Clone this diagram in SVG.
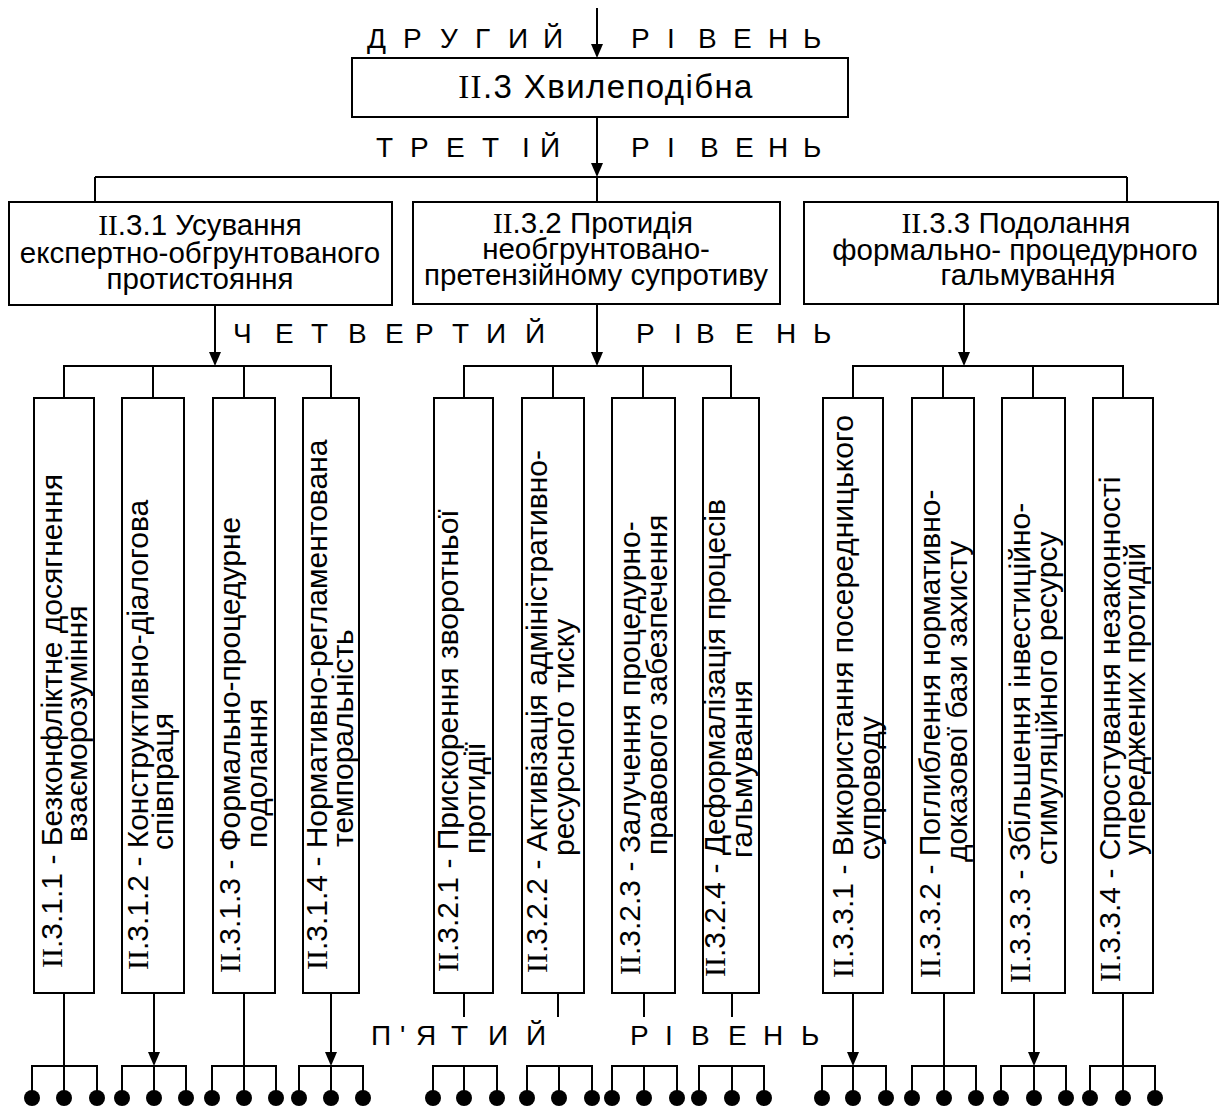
<svg xmlns="http://www.w3.org/2000/svg" width="1224" height="1109" viewBox="0 0 1224 1109">
<style>
.box{fill:#fff;stroke:#000;stroke-width:2}
.ln{stroke:#000;stroke-width:2;fill:none}
.ar{stroke:#000;stroke-width:2;fill:none;marker-end:url(#ah)}
.t{font-family:"Liberation Sans",Arial,sans-serif;font-size:30px;fill:#000}
.bt{font-family:"Liberation Sans",Arial,sans-serif;font-size:29.5px;fill:#000;text-anchor:middle}
.r{font-family:"Liberation Serif","Times New Roman",serif}
.lvl{font-family:"Liberation Sans",Arial,sans-serif;font-size:28px;fill:#000}
.dot{fill:#000}
</style>
<defs>
<marker id="ah" markerUnits="userSpaceOnUse" markerWidth="14" markerHeight="12" refX="10" refY="6" orient="auto">
<path d="M0,0 L14,6 L0,12 z" fill="#000"/>
</marker>
</defs>
<rect width="1224" height="1109" fill="#fff"/>

<g id="levels">
<text class="lvl" x="367 403 440 475 508 543" y="48">ДРУГИЙ</text>
<text class="lvl" x="631 667 698 733 768 803" y="48">РІВЕНЬ</text>
<text class="lvl" x="376 410 446 482 522 540" y="157">ТРЕТІЙ</text>
<text class="lvl" x="631 667 700 735 768 803" y="157">РІВЕНЬ</text>
<text class="lvl" x="233 275 311 348 385 415 452 486 525" y="343">ЧЕТВЕРТИЙ</text>
<text class="lvl" x="636 674 696 735 776 813" y="343">РІВЕНЬ</text>
<text class="lvl" x="371 400 416 451 488 526" y="1045">П'ЯТИЙ</text>
<text class="lvl" x="630 665 691 728 763 801" y="1045">РІВЕНЬ</text>
</g>

<g id="connectors">
<line class="ar" x1="597" y1="8" x2="597" y2="54"/>
<line class="ar" x1="597" y1="117" x2="597" y2="173"/>
<line class="ln" x1="597" y1="177" x2="597" y2="202"/>
<line class="ln" x1="95" y1="177" x2="1127" y2="177"/>
<line class="ln" x1="95" y1="177" x2="95" y2="202"/>
<line class="ln" x1="1127" y1="177" x2="1127" y2="202"/>

<line class="ar" x1="215" y1="305" x2="215" y2="362"/>
<line class="ar" x1="597" y1="304" x2="597" y2="362"/>
<line class="ar" x1="964" y1="304" x2="964" y2="362"/>
<path class="ln" d="M64,398 V366 H331 V398 M153,366 V398 M244,366 V398"/>
<path class="ln" d="M464,398 V366 H731 V398 M553,366 V398 M643,366 V398"/>
<path class="ln" d="M853,398 V366 H1123 V398 M943,366 V398 M1033,366 V398"/>

<line class="ln" x1="64" y1="993" x2="64" y2="1098"/>
<line class="ar" x1="154" y1="993" x2="154" y2="1062"/>
<line class="ln" x1="244" y1="993" x2="244" y2="1098"/>
<line class="ar" x1="331" y1="993" x2="331" y2="1062"/>
<line class="ln" x1="464" y1="993" x2="464" y2="1017"/>
<line class="ln" x1="558" y1="993" x2="558" y2="1017"/>
<line class="ln" x1="644" y1="993" x2="644" y2="1017"/>
<line class="ln" x1="732" y1="993" x2="732" y2="1017"/>
<line class="ar" x1="853" y1="993" x2="853" y2="1062"/>
<line class="ln" x1="944" y1="993" x2="944" y2="1098"/>
<line class="ar" x1="1034" y1="993" x2="1034" y2="1062"/>
<line class="ln" x1="1123" y1="993" x2="1123" y2="1098"/>

<path class="ln" d="M32,1098 V1066 H97 V1098 M64,1066 V1098"/>
<path class="ln" d="M122,1098 V1066 H186 V1098 M154,1066 V1098"/>
<path class="ln" d="M212,1098 V1066 H276 V1098 M244,1066 V1098"/>
<path class="ln" d="M299,1098 V1066 H363 V1098 M331,1066 V1098"/>
<path class="ln" d="M433,1098 V1066 H497 V1098 M464,1066 V1098"/>
<path class="ln" d="M527,1098 V1066 H592 V1098 M559,1066 V1098"/>
<path class="ln" d="M612,1098 V1066 H677 V1098 M644,1066 V1098"/>
<path class="ln" d="M699,1098 V1066 H764 V1098 M732,1066 V1098"/>
<path class="ln" d="M822,1098 V1066 H886 V1098 M853,1066 V1098"/>
<path class="ln" d="M912,1098 V1066 H976 V1098 M944,1066 V1098"/>
<path class="ln" d="M1001,1098 V1066 H1066 V1098 M1034,1066 V1098"/>
<path class="ln" d="M1090,1098 V1066 H1155 V1098 M1123,1066 V1098"/>
</g>

<g id="dots">
<circle class="dot" cx="32" cy="1098" r="8"/><circle class="dot" cx="64" cy="1098" r="8"/><circle class="dot" cx="97" cy="1098" r="8"/>
<circle class="dot" cx="122" cy="1098" r="8"/><circle class="dot" cx="154" cy="1098" r="8"/><circle class="dot" cx="186" cy="1098" r="8"/>
<circle class="dot" cx="212" cy="1098" r="8"/><circle class="dot" cx="244" cy="1098" r="8"/><circle class="dot" cx="276" cy="1098" r="8"/>
<circle class="dot" cx="299" cy="1098" r="8"/><circle class="dot" cx="331" cy="1098" r="8"/><circle class="dot" cx="363" cy="1098" r="8"/>
<circle class="dot" cx="433" cy="1098" r="8"/><circle class="dot" cx="464" cy="1098" r="8"/><circle class="dot" cx="497" cy="1098" r="8"/>
<circle class="dot" cx="527" cy="1098" r="8"/><circle class="dot" cx="559" cy="1098" r="8"/><circle class="dot" cx="592" cy="1098" r="8"/>
<circle class="dot" cx="612" cy="1098" r="8"/><circle class="dot" cx="644" cy="1098" r="8"/><circle class="dot" cx="677" cy="1098" r="8"/>
<circle class="dot" cx="699" cy="1098" r="8"/><circle class="dot" cx="732" cy="1098" r="8"/><circle class="dot" cx="764" cy="1098" r="8"/>
<circle class="dot" cx="822" cy="1098" r="8"/><circle class="dot" cx="853" cy="1098" r="8"/><circle class="dot" cx="886" cy="1098" r="8"/>
<circle class="dot" cx="912" cy="1098" r="8"/><circle class="dot" cx="944" cy="1098" r="8"/><circle class="dot" cx="976" cy="1098" r="8"/>
<circle class="dot" cx="1001" cy="1098" r="8"/><circle class="dot" cx="1034" cy="1098" r="8"/><circle class="dot" cx="1066" cy="1098" r="8"/>
<circle class="dot" cx="1090" cy="1098" r="8"/><circle class="dot" cx="1123" cy="1098" r="8"/><circle class="dot" cx="1155" cy="1098" r="8"/>
</g>

<g id="n-2-3">
<rect class="box" x="352" y="58" width="496" height="59"/>
<text class="bt" x="606" y="98" style="font-size:33px;letter-spacing:1.4px"><tspan class="r">II</tspan>.3 Хвилеподібна</text>
</g>

<g id="n-2-3-1">
<rect class="box" x="9" y="202" width="383" height="103"/>
<text class="bt" x="200" y="235"><tspan class="r">II</tspan>.3.1 Усування</text>
<text class="bt" x="200" y="263">експертно-обгрунтованого</text>
<text class="bt" x="200" y="289">протистояння</text>
</g>

<g id="n-2-3-2">
<rect class="box" x="413" y="202" width="367" height="102"/>
<text class="bt" x="593" y="233"><tspan class="r">II</tspan>.3.2 Протидія</text>
<text class="bt" x="596" y="259">необгрунтовано-</text>
<text class="bt" x="596" y="285">претензійному супротиву</text>
</g>

<g id="n-2-3-3">
<rect class="box" x="804" y="202" width="414" height="102"/>
<text class="bt" x="1016" y="233"><tspan class="r">II</tspan>.3.3 Подолання</text>
<text class="bt" x="1015" y="260">формально- процедурного</text>
<text class="bt" x="1028" y="285">гальмування</text>
</g>

<g id="n-2-3-1-1">
<rect class="box" x="34" y="398" width="60" height="595"/>
<text class="t" transform="translate(62,968) rotate(-90)"><tspan class="r">II</tspan>.3.1.1 - Безконфліктне досягнення</text>
<text class="t" transform="translate(87,842) rotate(-90)">взаєморозуміння</text>
</g>
<g id="n-2-3-1-2">
<rect class="box" x="122" y="398" width="62" height="595"/>
<text class="t" transform="translate(148,970) rotate(-90)"><tspan class="r">II</tspan>.3.1.2 - Конструктивно-діалогова</text>
<text class="t" transform="translate(173,850) rotate(-90)">співпраця</text>
</g>
<g id="n-2-3-1-3">
<rect class="box" x="213" y="398" width="62" height="595"/>
<text class="t" transform="translate(240,973) rotate(-90)"><tspan class="r">II</tspan>.3.1.3 - Формально-процедурне</text>
<text class="t" transform="translate(267,848) rotate(-90)">подолання</text>
</g>
<g id="n-2-3-1-4">
<rect class="box" x="303" y="398" width="56" height="595"/>
<text class="t" transform="translate(327,970) rotate(-90)"><tspan class="r">II</tspan>.3.1.4 - Нормативно-регламентована</text>
<text class="t" transform="translate(353,847) rotate(-90)">темпоральність</text>
</g>

<g id="n-2-3-2-1">
<rect class="box" x="434" y="398" width="59" height="595"/>
<text class="t" transform="translate(458,972) rotate(-90)"><tspan class="r">II</tspan>.3.2.1 - Прискорення зворотньої</text>
<text class="t" transform="translate(485,854) rotate(-90)">протидії</text>
</g>
<g id="n-2-3-2-2">
<rect class="box" x="522" y="398" width="62" height="595"/>
<text class="t" transform="translate(547,973) rotate(-90)"><tspan class="r">II</tspan>.3.2.2 - Активізація адміністративно-</text>
<text class="t" transform="translate(574,856) rotate(-90)">ресурсного тиску</text>
</g>
<g id="n-2-3-2-3">
<rect class="box" x="612" y="398" width="63" height="595"/>
<text class="t" transform="translate(640,975) rotate(-90)"><tspan class="r">II</tspan>.3.2.3 - Залучення процедурно-</text>
<text class="t" transform="translate(667,855) rotate(-90)">правового забезпечення</text>
</g>
<g id="n-2-3-2-4">
<rect class="box" x="703" y="398" width="56" height="595"/>
<text class="t" transform="translate(725,977) rotate(-90)"><tspan class="r">II</tspan>.3.2.4 - Деформалізація процесів</text>
<text class="t" transform="translate(752,858) rotate(-90)">гальмування</text>
</g>

<g id="n-2-3-3-1">
<rect class="box" x="823" y="398" width="60" height="595"/>
<text class="t" transform="translate(853,978) rotate(-90)"><tspan class="r">II</tspan>.3.3.1 - Використання посередницького</text>
<text class="t" transform="translate(880,860) rotate(-90)">супроводу</text>
</g>
<g id="n-2-3-3-2">
<rect class="box" x="912" y="398" width="62" height="595"/>
<text class="t" transform="translate(940,978) rotate(-90)"><tspan class="r">II</tspan>.3.3.2 - Поглиблення нормативно-</text>
<text class="t" transform="translate(967,862) rotate(-90)">доказової бази захисту</text>
</g>
<g id="n-2-3-3-3">
<rect class="box" x="1002" y="398" width="63" height="595"/>
<text class="t" transform="translate(1030,983) rotate(-90)"><tspan class="r">II</tspan>.3.3.3 - Збільшення інвестиційно-</text>
<text class="t" transform="translate(1057,865) rotate(-90)">стимуляційного ресурсу</text>
</g>
<g id="n-2-3-3-4">
<rect class="box" x="1093" y="398" width="60" height="595"/>
<text class="t" transform="translate(1120,982) rotate(-90)"><tspan class="r">II</tspan>.3.3.4 - Спростування незаконності</text>
<text class="t" transform="translate(1145,855) rotate(-90)">упереджених протидій</text>
</g>
</svg>
